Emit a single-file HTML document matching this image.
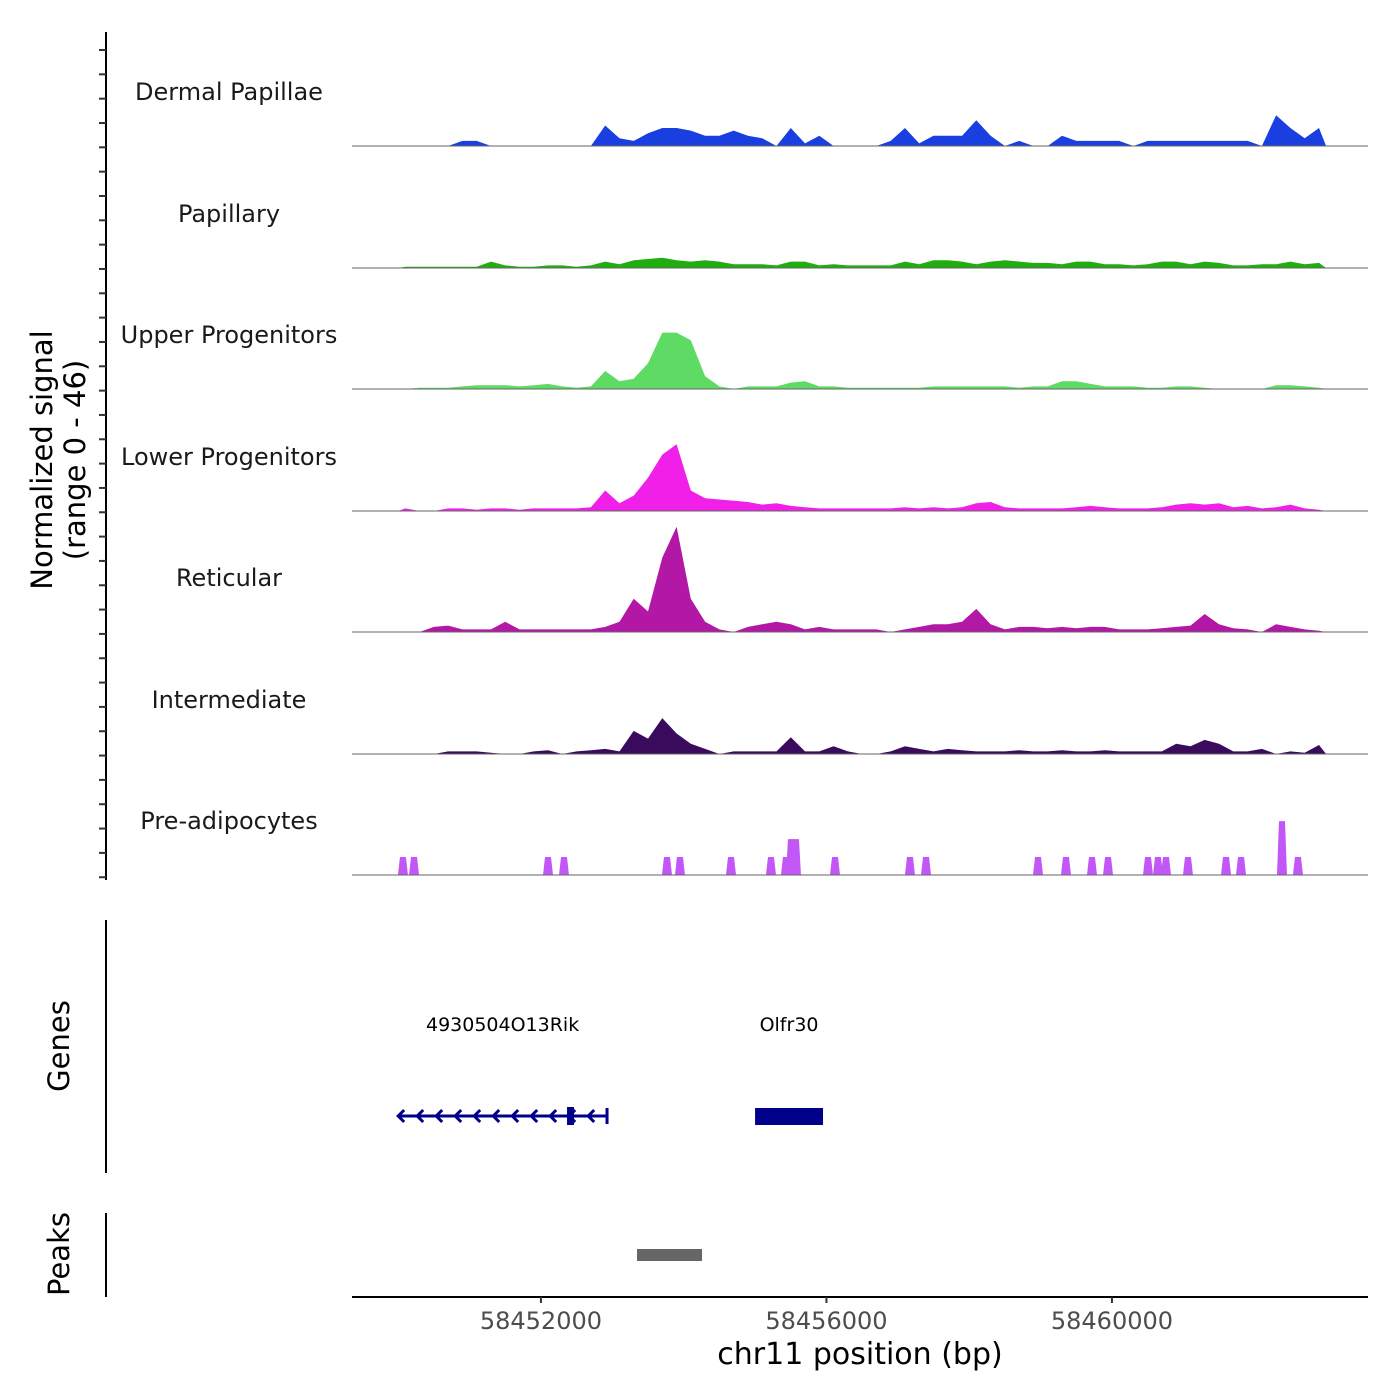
<!DOCTYPE html>
<html><head><meta charset="utf-8">
<style>
html,body{margin:0;padding:0;background:#fff;}
svg{display:block;font-family:"DejaVu Sans","Liberation Sans",sans-serif;}
</style></head>
<body>
<svg id="chart" width="1400" height="1400" viewBox="0 0 1400 1400">
<g id="tracks"></g>
<g id="leftaxis">
<line x1="106" y1="32" x2="106" y2="880" stroke="#000" stroke-width="2"/>
</g>
<text transform="translate(52,460) rotate(-90)" text-anchor="middle" font-size="29" fill="#000">Normalized signal</text>
<text transform="translate(85,460) rotate(-90)" text-anchor="middle" font-size="29" fill="#000">(range 0 - 46)</text>
<line x1="106" y1="920" x2="106" y2="1173" stroke="#000" stroke-width="2"/>
<text transform="translate(69,1046) rotate(-90)" text-anchor="middle" font-size="29">Genes</text>
<line x1="106" y1="1213" x2="106" y2="1297" stroke="#000" stroke-width="2"/>
<text transform="translate(69,1254) rotate(-90)" text-anchor="middle" font-size="29">Peaks</text>
<g id="genes"></g>
<g id="peaks"></g>
<g id="xaxis">
<line x1="352" y1="1297" x2="1368" y2="1297" stroke="#000" stroke-width="2"/>
</g>
<text x="860" y="1364" text-anchor="middle" font-size="30">chr11 position (bp)</text>
</svg>
<script>
const trackNames = ["Dermal Papillae","Papillary","Upper Progenitors","Lower Progenitors","Reticular","Intermediate","Pre-adipocytes"];
const trackColors = ["#1a3fe0","#1fad0f","#5ddb64","#f020e8","#b217a5","#3a0b5c","#c257f7"];
const binStart = 58450000;
const binSize = 200;
const dermal = [0,0,0,0,2,2,0,0,0,0,0,0,0,0,8,3,2,5,7,7,6,4,4,6,4,3,0,7,1,4,0,0,0,0,2,7,1,4,4,4,10,4,0,2,0,0,4,2,2,2,2,0,2,2,2,2,2,2,2,2,0,12,7,3,7];
const papillary = [0.5,0.5,0.5,0.5,0.5,0.5,2.5,1,0.5,0.5,1,1,0.5,1,2.5,1.5,3,3.5,4,3,2.5,3,2.5,1.5,1.5,1.5,1,2.5,2.5,1,1.5,1,1,1,1,2.5,1.5,3,3,2.5,1.5,2.5,3,2.5,2,2,1.5,2.5,2.5,1.5,1.5,1,1.5,2.5,2.5,1.5,2.5,2,1,1,1.5,1.5,2.5,1.5,2];
const upper = [0,0.5,0.5,0.5,1,1.5,1.5,1.5,1,1.5,2,1,0.5,1,7,3,4,10,22,22,19,5,1,0,1,1,1,2.5,3,1,1,0.5,0.5,0.5,0.5,0.5,0.5,1,1,1,1,1,1,0.5,1,1,3,3,2,1,1,1,0.5,0.5,1,1,0.5,0,0,0,0,1.5,1.5,1,0.5];
const lower = [1,0,0,1,1,0.5,1,1,0.5,1,1,1,1,1.5,8,3,6,13,22,26,8,5,4.5,4,3.5,2.5,3,2,1.5,1,1,1,1,1,1,1.5,1,1.5,1,1.5,3,3.5,1.5,1,1,1,1,1.5,2,1.5,1,1,1,1.5,2.5,3,2.5,3,1.5,2,1,1.5,2.5,1,0.5];
const reticular = [0,0,2,2.5,1,1,1,4,1,1,1,1,1,1,2,4,13,8,29,41,13,4,1,0,2,3,4,3,1,2,1,1,1,1,0,1,2,3,3,4,9,3,1,2,2,1.5,2,1.5,2,2,1,1,1,1.5,2,2.5,7,3,1.5,1,0,3,2,1,0.5];
const intermediate = [0,0,0,1,1,1,0.5,0,0,1,1.5,0,1,1.5,2,1,9,6,14,8,4,2,0,1,1,1,1,6.5,1,1,3,1,0,0,1,3,2,1,2,1.5,1,1,1,1.5,1,1,1.5,1,1,1.5,1,1,1,1,4,3,5.5,4,1,1,2,0,1,0.5,3.5];
const preadipoPos = [58450067,58450222,58452099,58452323,58453766,58453948,58454663,58455223,58455433,58455503,58455573,58456120,58457170,58457395,58458964,58459356,58459720,58459945,58460505,58460645,58460757,58461065,58461598,58461808,58462382,58462606];
const preadipoVal = [7,7,7,7,7,7,7,7,7,14,14,7,7,7,7,7,7,7,7,7,7,7,7,7,21,7];
const xTicks = [58452000,58456000,58460000];
const geneNames = ["4930504O13Rik","Olfr30"];
const geneStarts = [58450000,58455000];
const geneEnds = [58452926,58455952];
const geneStrand = [-1,1];
const peakStarts = [58453346];
const peakEnds = [58454257];

const NS = "http://www.w3.org/2000/svg";
const X0 = 352, X1 = 1368, BP0 = 58449353, BPPX = 14.01;
function xs(bp){ return X0 + (bp - BP0) / BPPX; }
const baselines = [146,268,389,511,632,754,875];
const maxVal = 46, trackH = 118;
function ys(v, i){ return baselines[i] - v / maxVal * trackH; }
function mk(tag, attrs, parent){ const e = document.createElementNS(NS, tag); for (const k in attrs) e.setAttribute(k, attrs[k]); parent.appendChild(e); return e; }

const series = [dermal,papillary,upper,lower,reticular,intermediate];
const tracks = document.getElementById('tracks');
trackNames.forEach((name, i) => {
  const g = mk('g', {}, tracks);
  
  
  const lab = mk('text', {x:229, y:baselines[i]-46, 'text-anchor':'middle', 'font-size':24, fill:'#1a1a1a'}, g);
  lab.textContent = name;
  
  
  if (i < 6) {
    const d = series[i];
    let pts = [];
    pts.push(xs(binStart) + ',' + baselines[i]);
    d.forEach((v, k) => { pts.push(xs(binStart + (k + 0.5) * binSize).toFixed(1) + ',' + ys(v, i).toFixed(1)); });
    pts.push(xs(binStart + d.length * binSize) + ',' + baselines[i]);
    const p = mk('polygon', {points: pts.join(' '), fill: trackColors[i]}, g);
    
    
  } else {
    preadipoPos.forEach((bp, k) => {
      const x = xs(bp), top = ys(preadipoVal[k], i), b = baselines[i];
      const p = mk('polygon', {points: `${x-5},${b} ${x-3},${top} ${x+3},${top} ${x+5},${b}`, fill: trackColors[i]}, g);
      
      
    });
  }
  const bl = mk('line', {x1:X0, x2:X1, y1:baselines[i], y2:baselines[i], stroke:'#666', 'stroke-width':1}, g);
  
  
});

const la = document.getElementById('leftaxis');
for (let y = 50; y <= 880; y += 24.33) {
  const t = mk('line', {x1:99, x2:106, y1:y, y2:y, stroke:'#333', 'stroke-width':2}, la);
  
  
}

const gg = document.getElementById('genes');
const gc = '#00008b';
geneNames.forEach((n, k) => {
  const x1 = xs(geneStarts[k]), x2 = xs(geneEnds[k]);
  const g = mk('g', {}, gg);
  
  
  const t = mk('text', {x:(x1+x2)/2, y:1031, 'text-anchor':'middle', 'font-size':19, fill:'#000'}, g);
  t.textContent = n;
  
  
  if (geneStrand[k] < 0) {
    mk('line', {x1:x1, x2:x2, y1:1116, y2:1116, stroke:gc, 'stroke-width':3}, g);
    for (let x = x1; x < x2 - 5; x += 19) {
      mk('polyline', {points:`${x+6},${1110} ${x},${1116} ${x+6},${1122}`, fill:'none', stroke:gc, 'stroke-width':3}, g);
    }
    mk('rect', {x:x2-40, y:1107, width:7, height:18, fill:gc}, g);
    mk('line', {x1:x2, x2:x2, y1:1108, y2:1124, stroke:gc, 'stroke-width':3}, g);
  } else {
    mk('rect', {x:x1, y:1108, width:x2-x1, height:17, fill:gc}, g);
  }
});

const pg = document.getElementById('peaks');
peakStarts.forEach((s, k) => {
  const r = mk('rect', {x:xs(s), y:1249, width:xs(peakEnds[k])-xs(s), height:12, fill:'#666'}, pg);
  
  
});

const xa = document.getElementById('xaxis');
xTicks.forEach(v => {
  const x = xs(v);
  const t = mk('line', {x1:x, x2:x, y1:1297, y2:1303, stroke:'#333', 'stroke-width':2}, xa);
  
  
  const l = mk('text', {x:x, y:1329, 'text-anchor':'middle', 'font-size':24, fill:'#4d4d4d'}, xa);
  l.textContent = v;
  
  
});
</script>
</body></html>
